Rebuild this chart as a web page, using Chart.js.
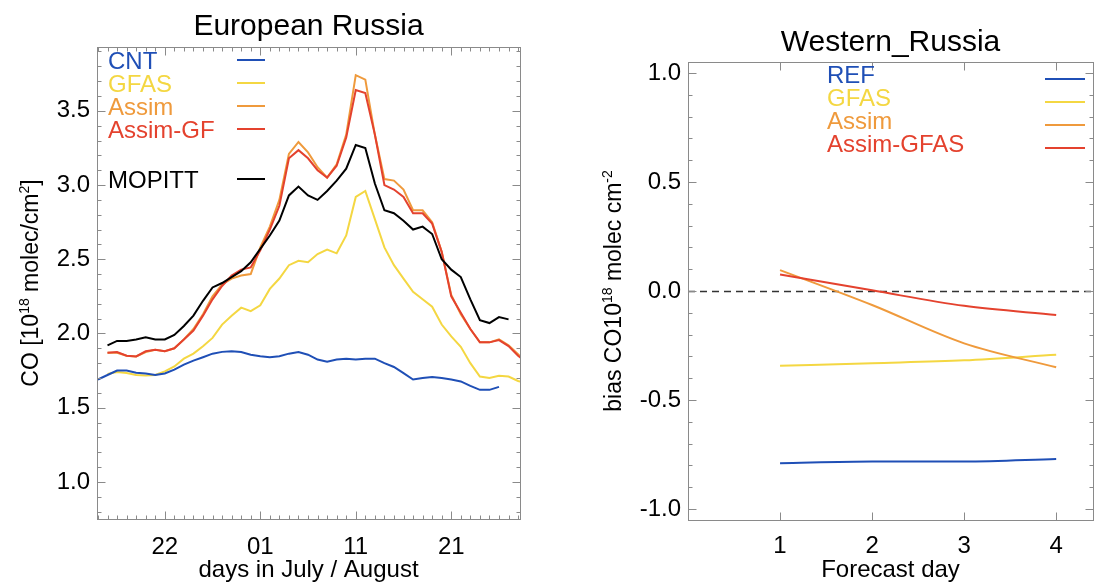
<!DOCTYPE html>
<html>
<head>
<meta charset="utf-8">
<script src="https://cdn.jsdelivr.net/npm/chart.js"></script>
<style>
  body { margin: 0; background: #fff; width: 1099px; height: 582px; overflow: hidden; position: relative; }
  .panel { position: absolute; top: 0; }
</style>
</head>
<body>
<div class="panel" style="left:0"><canvas id="leftChart" width="560" height="582"></canvas></div>
<div class="panel" style="left:560px"><canvas id="rightChart" width="539" height="582"></canvas></div>
<script>
    const family = '"Liberation Sans", Arial, Helvetica, sans-serif';

    // left panel: CO total column, day number counted from 1 July (32 = 01 Aug)
    const days = [15,16,17,18,19,20,21,22,23,24,25,26,27,28,29,30,31,32,33,34,35,36,37,
                  38,39,40,41,42,43,44,45,46,47,48,49,50,51,52,53,54,55,56,57,58,59,60];
    const dayTicks = [22, 32, 42, 52];
    const dayTickLabels = ['22', '01', '11', '21'];
    const coTicks = [1.0, 1.5, 2.0, 2.5, 3.0, 3.5];

    const cnt = [1.69,1.72,1.75,1.75,1.735,1.73,1.72,1.73,1.756,1.79,1.817,1.84,1.864,1.876,1.88,1.875,1.857,
                 1.846,1.84,1.846,1.864,1.875,1.857,1.824,1.81,1.824,1.83,1.824,1.83,1.83,1.80,1.774,1.733,
                 1.69,1.70,1.706,1.70,1.69,1.677,1.647,1.62,1.62,1.64,null,null,null];
    const gfas = [null,1.727,1.74,1.733,1.72,1.716,1.72,1.745,1.778,1.83,1.864,1.914,1.97,2.06,2.12,2.174,2.15,
                  2.19,2.30,2.37,2.46,2.49,2.48,2.535,2.565,2.54,2.66,2.92,2.96,2.77,2.58,2.46,2.37,
                  2.28,2.23,2.18,2.06,1.98,1.91,1.80,1.71,1.70,1.715,1.71,1.68,1.66];
    const assim = [null,1.87,1.87,1.85,1.845,1.875,1.89,1.88,1.90,1.96,2.03,2.13,2.25,2.33,2.37,2.39,2.40,
                   2.58,2.72,2.90,3.21,3.29,3.22,3.12,3.05,3.14,3.34,3.74,3.71,3.34,3.04,3.03,2.97,
                   2.83,2.83,2.75,2.55,2.26,2.13,2.03,1.94,1.94,1.96,1.92,1.86,1.80];
    const assimGf = [null,1.87,1.875,1.85,1.845,1.88,1.89,1.88,1.90,1.96,2.02,2.12,2.23,2.32,2.39,2.43,2.445,
                     2.56,2.70,2.86,3.18,3.235,3.18,3.10,3.05,3.13,3.32,3.64,3.62,3.34,3.00,2.97,2.92,
                     2.81,2.81,2.74,2.55,2.25,2.14,2.03,1.94,1.94,1.955,1.915,1.85,1.80];
    const mopitt = [null,1.92,1.95,1.95,1.96,1.975,1.96,1.96,1.99,2.05,2.12,2.22,2.31,2.34,2.38,2.42,2.48,
                    2.57,2.66,2.76,2.93,2.99,2.93,2.90,2.96,3.03,3.11,3.27,3.25,3.01,2.83,2.81,2.76,
                    2.70,2.72,2.67,2.50,2.43,2.38,2.23,2.09,2.07,2.11,2.095,null,null];

    // right panel: bias per forecast day
    const forecastDays = [1, 2, 3, 4];
    const biasTicks = [-1.0, -0.5, 0.0, 0.5, 1.0];
    const ref = [-0.79, -0.782, -0.782, -0.77];
    const gfasBias = [-0.343, -0.331, -0.318, -0.292];
    const assimBias = [0.096, -0.064, -0.24, -0.35];
    const assimGfasBias = [0.076, 0.003, -0.068, -0.11];

    const blue = '#1f4fb6', yellow = '#f4d742', orange = '#ef9a3c', red = '#e4422e';

    const pts = (xs, ys) => xs.map((x, i) => ({ x: x, y: ys[i] }));

    // rotated axis title with superscript pieces
    function drawRich(ctx, parts, cx, cy, size) {
        const sup = Math.round(size * 0.62);
        let total = 0;
        parts.forEach(p => {
            ctx.font = (p.sup ? sup : size) + 'px ' + family;
            p.w = ctx.measureText(p.t).width;
            total += p.w;
        });
        ctx.save();
        ctx.translate(cx, cy);
        ctx.rotate(-Math.PI / 2);
        ctx.textAlign = 'left';
        ctx.textBaseline = 'alphabetic';
        ctx.fillStyle = '#000';
        let x = -total / 2;
        const base = size * 0.36;
        parts.forEach(p => {
            ctx.font = (p.sup ? sup : size) + 'px ' + family;
            ctx.fillText(p.t, x, p.sup ? base - size * 0.42 : base);
            x += p.w;
        });
        ctx.restore();
    }

    const idlFrame = {
        id: 'idlFrame',
        beforeDatasetsDraw(chart, args, o) {
            if (!o.zeroLine) return;
            const { ctx, chartArea: a, scales: { y } } = chart;
            const py = Math.round(y.getPixelForValue(0)) + 0.5;
            ctx.save();
            ctx.setLineDash([7, 5]);
            ctx.strokeStyle = '#333';
            ctx.lineWidth = 1.5;
            ctx.beginPath();
            ctx.moveTo(a.left, py);
            ctx.lineTo(a.right, py);
            ctx.stroke();
            ctx.restore();
        },
        afterDraw(chart, args, o) {
            const { ctx, chartArea: a, scales: { x, y } } = chart;
            ctx.save();
            ctx.strokeStyle = '#8a8a8a';
            ctx.lineWidth = 1;
            const L = Math.round(a.left) + 0.5, R = Math.round(a.right) + 0.5;
            const T = Math.round(a.top) + 0.5, B = Math.round(a.bottom) + 0.5;
            ctx.strokeRect(L, T, R - L, B - T);
            ctx.beginPath();
            const vTick = (v, len) => {
                const px = Math.round(x.getPixelForValue(v)) + 0.5;
                ctx.moveTo(px, B); ctx.lineTo(px, B - len);
                ctx.moveTo(px, T); ctx.lineTo(px, T + len);
            };
            const hTick = (v, len) => {
                const py = Math.round(y.getPixelForValue(v)) + 0.5;
                ctx.moveTo(L, py); ctx.lineTo(L + len, py);
                ctx.moveTo(R, py); ctx.lineTo(R - len, py);
            };
            o.xMinor.forEach(v => vTick(v, 4));
            o.xMajor.forEach(v => vTick(v, 8));
            o.yMinor.forEach(v => hTick(v, 4));
            o.yMajor.forEach(v => hTick(v, 8));
            ctx.stroke();

            ctx.fillStyle = '#000';
            ctx.font = '30px ' + family;
            ctx.textAlign = 'center';
            ctx.textBaseline = 'alphabetic';
            ctx.fillText(o.title, (a.left + a.right) / 2, o.titleY);

            drawRich(ctx, o.yTitle, o.yTitleX, (a.top + a.bottom) / 2, 23);

            const lg = o.legend;
            chart.data.datasets.forEach((ds, i) => {
                const ty = lg.rows[i];
                ctx.font = '24px ' + family;
                ctx.textAlign = 'left';
                ctx.textBaseline = 'middle';
                ctx.fillStyle = ds.borderColor;
                ctx.fillText(ds.label, lg.textX, ty);
                ctx.strokeStyle = ds.borderColor;
                ctx.lineWidth = 2;
                ctx.beginPath();
                ctx.moveTo(lg.x1, ty + lg.dy);
                ctx.lineTo(lg.x2, ty + lg.dy);
                ctx.stroke();
            });
            ctx.restore();
        }
    };

    const range = (from, to, step) => {
        const out = [];
        for (let i = Math.round(from / step); i <= Math.round(to / step); i++) out.push(+(i * step).toFixed(2));
        return out;
    };

    function axes(xOpt, yOpt) {
        return {
            x: {
                type: 'linear', min: xOpt.min, max: xOpt.max,
                grid: { display: false, drawTicks: false }, border: { display: false },
                afterBuildTicks: s => { s.ticks = xOpt.ticks.map(v => ({ value: v })); },
                afterFit: s => { s.height = xOpt.height; },
                ticks: {
                    color: '#000', font: { family: family, size: 24 }, padding: xOpt.pad,
                    maxRotation: 0, autoSkip: false,
                    callback: v => xOpt.labels[xOpt.ticks.indexOf(v)]
                },
                title: { display: true, text: xOpt.title, color: '#000',
                         font: { family: family, size: 24, lineHeight: 1 }, padding: { top: 0, bottom: 0 } }
            },
            y: {
                min: yOpt.min, max: yOpt.max,
                grid: { display: false, drawTicks: false }, border: { display: false },
                afterBuildTicks: s => { s.ticks = yOpt.ticks.map(v => ({ value: v })); },
                afterFit: s => { s.width = yOpt.width; },
                ticks: { color: '#000', font: { family: family, size: 24 }, padding: yOpt.pad,
                         callback: v => v.toFixed(1) }
            }
        };
    }

    const lineStyle = { borderWidth: 2, pointRadius: 0, fill: false, spanGaps: false };

    // lower "order" is drawn on top
    new Chart(document.getElementById('leftChart').getContext('2d'), {
        type: 'line',
        data: {
            datasets: [
                { label: 'CNT', data: pts(days, cnt), borderColor: blue, order: 3, ...lineStyle },
                { label: 'GFAS', data: pts(days, gfas), borderColor: yellow, order: 4, ...lineStyle },
                { label: 'Assim', data: pts(days, assim), borderColor: orange, order: 2, ...lineStyle },
                { label: 'Assim-GF', data: pts(days, assimGf), borderColor: red, order: 1, ...lineStyle },
                { label: 'MOPITT', data: pts(days, mopitt), borderColor: '#000', order: 0, ...lineStyle }
            ]
        },
        options: {
            responsive: false, animation: false,
            layout: { padding: { top: 47, right: 40, left: 0, bottom: 0 } },
            plugins: {
                legend: { display: false }, tooltip: { enabled: false },
                idlFrame: {
                    title: 'European Russia', titleY: 35,
                    yTitle: [{ t: 'CO [10' }, { t: '18', sup: true }, { t: ' molec/cm' }, { t: '2', sup: true }, { t: ']' }],
                    yTitleX: 30,
                    xMajor: dayTicks, xMinor: range(15, 59, 1),
                    yMajor: coTicks, yMinor: range(0.8, 3.9, 0.1),
                    legend: { textX: 108, x1: 237, x2: 265, dy: -2, rows: [62, 85, 108, 131, 181] }
                }
            },
            scales: axes(
                { min: 14.9, max: 59.2, ticks: dayTicks, labels: dayTickLabels, height: 63, pad: 14,
                  title: 'days in July / August' },
                { min: 0.75, max: 3.93, ticks: coTicks, width: 97, pad: 7 }
            )
        },
        plugins: [idlFrame]
    });

    new Chart(document.getElementById('rightChart').getContext('2d'), {
        type: 'line',
        data: {
            datasets: [
                { label: 'REF', data: pts(forecastDays, ref), borderColor: blue, order: 3, ...lineStyle, cubicInterpolationMode: 'monotone' },
                { label: 'GFAS', data: pts(forecastDays, gfasBias), borderColor: yellow, order: 2, ...lineStyle, cubicInterpolationMode: 'monotone' },
                { label: 'Assim', data: pts(forecastDays, assimBias), borderColor: orange, order: 1, ...lineStyle, cubicInterpolationMode: 'monotone' },
                { label: 'Assim-GFAS', data: pts(forecastDays, assimGfasBias), borderColor: red, order: 0, ...lineStyle, cubicInterpolationMode: 'monotone' }
            ]
        },
        options: {
            responsive: false, animation: false,
            layout: { padding: { top: 62, right: 6, left: 0, bottom: 0 } },
            plugins: {
                legend: { display: false }, tooltip: { enabled: false },
                idlFrame: {
                    title: 'Western_Russia', titleY: 51, zeroLine: true,
                    yTitle: [{ t: 'bias CO10' }, { t: '18', sup: true }, { t: ' molec cm' }, { t: '-2', sup: true }],
                    yTitleX: 53,
                    xMajor: forecastDays, xMinor: [],
                    yMajor: biasTicks, yMinor: range(-1.0, 1.0, 0.1),
                    legend: { textX: 267, x1: 485, x2: 525, dy: 3, rows: [76, 99, 122, 145] }
                }
            },
            scales: axes(
                { min: 0, max: 4.4, ticks: forecastDays, labels: ['1', '2', '3', '4'], height: 62, pad: 12,
                  title: 'Forecast day' },
                { min: -1.05, max: 1.05, ticks: biasTicks, width: 128, pad: 7 }
            )
        },
        plugins: [idlFrame]
    });
</script>
</body>
</html>
